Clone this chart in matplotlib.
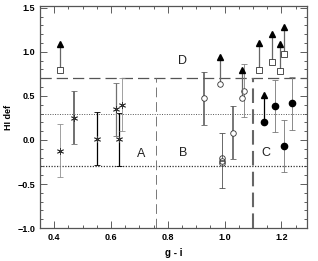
import numpy as np
import matplotlib
matplotlib.use("Agg")
import matplotlib.pyplot as plt
from matplotlib.ticker import MultipleLocator

# asterisks (with error bars)
star_x = [0.42, 0.468, 0.55, 0.629, 0.618, 0.637]
star_y = [-0.12, 0.25, 0.015, 0.01, 0.35, 0.40]
star_err = [0.30, 0.30, 0.30, 0.30, 0.30, 0.30]
star_col = ["#909090", "#707070", "black", "black", "#707070", "#909090"]
star_lw = [0.6, 1.4, 0.9, 0.9, 0.9, 0.6]

# open circles (with error bars)
circ_x = [0.927, 1.029, 0.99, 1.07]
circ_y = [0.474, 0.08, -0.235, 0.557]
circ_err = [0.30, 0.30, 0.31, 0.30]
circ_col = ["#606060", "#606060", "#505050", "#808080"]
circ_lw = [1.2, 1.2, 0.6, 0.6]
# extra open circles without bars
circ2_x = [0.99, 0.99]
circ2_y = [-0.21, -0.26]

# filled circles (with error bars)
fill_x = [1.178, 1.208, 1.237]
fill_y = [0.386, -0.068, 0.417]
fill_err = [0.30, 0.30, 0.30]

# lower limits: marker at y0, arrow up to y1
lim_x = [0.42, 0.985, 1.06, 1.12, 1.167, 1.197, 1.208, 1.138]
lim_y0 = [0.79, 0.63, 0.48, 0.795, 0.89, 0.78, 0.97, 0.205]
lim_y1 = [1.09, 0.94, 0.79, 1.10, 1.20, 1.09, 1.28, 0.51]
lim_sym = ["s", "o", "o", "s", "s", "s", "s", "f"]

plt.rcParams["font.family"] = "Liberation Sans"
plt.rcParams["font.size"] = 6.5

fig = plt.figure(figsize=(3.18, 2.61), dpi=100)
ax = fig.add_axes([0.126, 0.126, 0.839, 0.851])

# region lines
ax.axhline(0.7, color="#555555", lw=0.9, ls=(0, (9, 4)))
ax.axhline(0.3, color="#555555", lw=0.7, ls=(0, (1, 1.5)))
ax.axhline(-0.3, color="#333333", lw=0.9, ls=(0, (1, 1.2)))
ax.plot([0.76, 0.76], [-1.0, 0.7], color="#777777", lw=0.7, ls=(0, (10, 5)))
ax.plot([1.10, 1.10], [-1.0, 0.7], color="#666666", lw=1.5, ls=(0, (7, 3)))

for t, x, y in [("D", 0.853, 0.9), ("A", 0.705, -0.16), ("B", 0.853, -0.15), ("C", 1.144, -0.15)]:
    ax.text(x, y, t, fontsize=9, ha="center", va="center", color="#222222")

for x, y, e, c, lw in zip(star_x, star_y, star_err, star_col, star_lw):
    ax.errorbar(x, y, yerr=e, fmt="none", ecolor=c, elinewidth=lw, capsize=2, capthick=0.6)
ax.plot(star_x, star_y, ls="none", marker=(6, 2, 0), ms=5, mew=0.6, color="#333333")

for x, y, e, c, lw in zip(circ_x, circ_y, circ_err, circ_col, circ_lw):
    ax.errorbar(x, y, yerr=e, fmt="none", ecolor=c, elinewidth=lw, capsize=2, capthick=0.6)
ax.plot(circ_x, circ_y, ls="none", marker="o", ms=4, mfc="white", mec="#333333", mew=0.6)
ax.plot(circ2_x, circ2_y, ls="none", marker="o", ms=4, mfc="none", mec="#333333", mew=0.6)

for x, y, e in zip(fill_x, fill_y, fill_err):
    ax.errorbar(x, y, yerr=e, fmt="none", ecolor="#777777", elinewidth=0.6, capsize=2, capthick=0.6)
ax.plot(fill_x, fill_y, ls="none", marker="o", ms=4.5, color="black")

for x, y0, y1, s in zip(lim_x, lim_y0, lim_y1, lim_sym):
    lc = "black" if s == "f" else "#666666"
    ax.plot([x, x], [y0, y1], color=lc, lw=0.9)
    ax.plot(x, y1, marker="^", ms=4.5, color="black", ls="none")
    if s == "s":
        ax.plot(x, y0, marker="s", ms=4.5, mfc="white", mec="#333333", mew=0.6, ls="none")
    elif s == "o":
        ax.plot(x, y0, marker="o", ms=4, mfc="white", mec="#333333", mew=0.6, ls="none")
    else:
        ax.plot(x, y0, marker="o", ms=4.5, color="black", ls="none")

ax.set_xlim(0.35, 1.29)
ax.set_ylim(-1.0, 1.52)
ax.xaxis.set_major_locator(MultipleLocator(0.2))
ax.xaxis.set_minor_locator(MultipleLocator(0.05))
ax.yaxis.set_major_locator(MultipleLocator(0.5))
ax.yaxis.set_minor_locator(MultipleLocator(0.1))
ax.tick_params(which="both", direction="in", top=True, right=True, color="#444444", width=0.6)
ax.tick_params(which="major", length=5, labelsize=6.5)
ax.tick_params(which="minor", length=2.5)
for lab in ax.get_xticklabels() + ax.get_yticklabels():
    lab.set_fontweight("bold")
for sp in ax.spines.values():
    sp.set_color("#555555")
    sp.set_linewidth(0.9)
ax.set_xlabel("g - i", fontsize=7, fontweight="bold", labelpad=4)
ax.set_ylabel("HI def", fontsize=6.5, fontweight="bold", labelpad=3)

fig.savefig("out.png", dpi=100)
